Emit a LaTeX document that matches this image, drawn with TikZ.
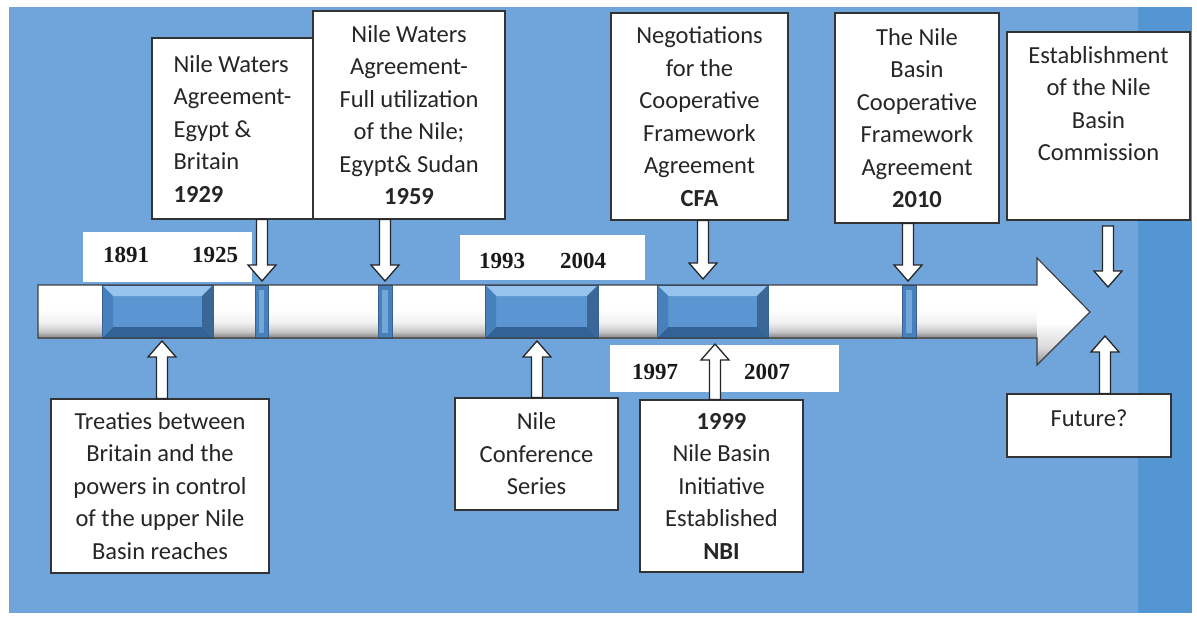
\documentclass[tikz,border=0pt]{standalone}
\usepackage{fontspec}
\setmainfont{Carlito}
\newfontfamily\yearfam{Liberation Serif}
\usetikzlibrary{calc}
\definecolor{bgblue}{RGB}{111,165,219}
\definecolor{bgstrip}{RGB}{84,150,212}
\definecolor{segblue}{RGB}{92,150,210}
\definecolor{seglight}{RGB}{150,196,238}
\definecolor{segdark}{RGB}{50,98,150}
\definecolor{segside}{RGB}{72,128,188}
\definecolor{textgray}{RGB}{38,38,38}
\newcommand\evfont{\fontsize{24.5}{32.5}\selectfont}
\newcommand\yrfont{\yearfam\bfseries\fontsize{23}{26}\selectfont}
\pgfdeclareverticalshading{shaftshade}{100bp}{color(0bp)=(black!50); color(25bp)=(black!50); color(31bp)=(black!22); color(40bp)=(black!5); color(52bp)=(white); color(100bp)=(white)}
\pgfdeclareverticalshading{headshade}{100bp}{color(0bp)=(black!50); color(25bp)=(black!45); color(33bp)=(black!15); color(45bp)=(white); color(100bp)=(white)}
\newcommand\blueseg[2]{%
  \fill[segblue] (#1,285) rectangle (#2,338);
  \fill[seglight] (#1,285) -- (#2,285) -- ({#2-11},296) -- ({#1+11},296) -- cycle;
  \fill[segdark] (#1,338) -- (#2,338) -- ({#2-11},327) -- ({#1+11},327) -- cycle;
  \fill[segside] (#1,285) -- ({#1+11},296) -- ({#1+11},327) -- (#1,338) -- cycle;
  \fill[segside!80!black] (#2,285) -- ({#2-11},296) -- ({#2-11},327) -- (#2,338) -- cycle;
  \draw[segdark,line width=0.8pt] (#1,285) rectangle (#2,338);}
\newcommand\narrowseg[2]{%
  \fill[segside] (#1,285) rectangle (#2,338);
  \fill[segblue!85!white] ({#1+4},290) rectangle ({#2-4},333);
  \draw[segdark,line width=0.8pt] (#1,285) rectangle (#2,338);}
\newcommand\blkdown[2]{\draw[barrow] let \p1=(#1), \p2=(#2) in
  ({\x1-5.5pt},\y1) -- ({\x1+5.5pt},\y1) -- ({\x1+5.5pt},{\y2+16pt}) -- ({\x1+14pt},{\y2+16pt})
  -- (\x1,\y2) -- ({\x1-14pt},{\y2+16pt}) -- ({\x1-5.5pt},{\y2+16pt}) -- cycle;}
\newcommand\blkup[2]{\draw[barrow] let \p1=(#1), \p2=(#2) in
  ({\x1-5.5pt},\y1) -- ({\x1+5.5pt},\y1) -- ({\x1+5.5pt},{\y2-16pt}) -- ({\x1+14pt},{\y2-16pt})
  -- (\x1,\y2) -- ({\x1-14pt},{\y2-16pt}) -- ({\x1-5.5pt},{\y2-16pt}) -- cycle;}
\begin{document}
\begin{tikzpicture}[x=1pt,y=-1pt,
  evbox/.style={draw=black!80,line width=1.1pt,fill=white,inner sep=0pt,align=center,font=\evfont,text=textgray},
  evtext/.style={inner sep=0pt,align=center,font=\evfont,text=textgray},
  yearbox/.style={fill=white,draw=none,inner sep=0pt},
  yeartext/.style={inner sep=0pt,font=\yrfont,text=black!90},
  barrow/.style={draw=black!85,line width=1.3pt,fill=white,line join=miter}]
\useasboundingbox (0,0) rectangle (1197,618);
% background
\fill[white] (0,0) rectangle (1197,618);
\fill[bgblue] (9,7) rectangle (1192,613);
\fill[bgstrip] (1138,7) rectangle (1192,613);
% year label boxes
\node[yearbox,minimum width=169pt,minimum height=50pt] (y1) at (167.5,257) {};
\node[yearbox,minimum width=185pt,minimum height=45pt] (y2) at (552.5,257.5) {};
\node[yearbox,minimum width=229pt,minimum height=47pt] (y3) at (724.5,368.5) {};
\node[yeartext] (t1891) at (126,255) {1891};
\node[yeartext] (t1925) at (215,255) {1925};
\node[yeartext] (t1993) at (502,261) {1993};
\node[yeartext] (t2004) at (583,261) {2004};
\node[yeartext] (t1997) at (655,372) {1997};
\node[yeartext] (t2007) at (767,372) {2007};
% timeline arrow
\fill[shading=shaftshade] (38,285) rectangle (1037,338);
\fill[shading=headshade] (1037,258) -- (1090,312) -- (1037,365) -- cycle;
\blueseg{102}{213}
\narrowseg{255}{268}
\narrowseg{378}{392}
\blueseg{485}{598}
\blueseg{657}{768}
\narrowseg{902}{916}
\draw[black!75,line width=1.2pt,line join=miter] (38,285) -- (1037,285) -- (1037,258) -- (1090,312) -- (1037,365) -- (1037,338) -- (38,338) -- cycle;
% timeline points
\coordinate (p1929) at (262,281);
\coordinate (p1959) at (385,281);
\coordinate (pCFA) at (703,279);
\coordinate (p2010) at (908,281);
\coordinate (pNBC) at (1108,287);
\coordinate (sNBC) at (1108,226);
\coordinate (pTre) at (162,341);
\coordinate (pConf) at (537,341);
\coordinate (pNBI) at (715,344);
\coordinate (pFut) at (1105,336);
% top boxes
\node[evbox,align=left,minimum width=161pt,minimum height=181pt] (b1929) at (232.5,128.5)
  {Nile Waters\\Agreement-\\Egypt \&\\Britain\\\textbf{1929}};
\node[evbox,minimum width=192pt,minimum height=208pt] (b1959) at (409,115)
  {Nile Waters\\Agreement-\\Full utilization\\of the Nile;\\Egypt\& Sudan\\\textbf{1959}};
\node[evbox,minimum width=177pt,minimum height=207pt] (bCFA) at (699.5,116.5)
  {Negotiations\\for the\\Cooperative\\Framework\\Agreement\\\textbf{CFA}};
\node[evbox,minimum width=164pt,minimum height=210pt] (b2010) at (917,118)
  {The Nile\\Basin\\Cooperative\\Framework\\Agreement\\\textbf{2010}};
\node[evbox,minimum width=183pt,minimum height=188pt] (bNBC) at (1098.5,126) {};
\node[evtext] (tNBC) at (1098.5,103.5) {Establishment\\of the Nile\\Basin\\Commission};
% bottom boxes
\node[evbox,minimum width=218pt,minimum height=174pt] (bTre) at (160,486)
  {Treaties between\\Britain and the\\powers in control\\of the upper Nile\\Basin reaches};
\node[evbox,minimum width=163pt,minimum height=112pt] (bConf) at (536.5,454)
  {Nile\\Conference\\Series};
\node[evbox,minimum width=163pt,minimum height=172pt] (bNBI) at (721.5,486)
  {\textbf{1999}\\Nile Basin\\Initiative\\Established\\\textbf{NBI}};
\node[evbox,minimum width=164pt,minimum height=63pt] (bFut) at (1089,425.5) {};
\node[evtext] (tFut) at (1089,418) {Future?};
% block arrows
\blkdown{b1929.south -| p1929}{p1929}
\blkdown{b1959.south -| p1959}{p1959}
\blkdown{bCFA.south -| pCFA}{pCFA}
\blkdown{b2010.south -| p2010}{p2010}
\blkdown{sNBC}{pNBC}
\blkup{bTre.north -| pTre}{pTre}
\blkup{bConf.north -| pConf}{pConf}
\blkup{bNBI.north -| pNBI}{pNBI}
\blkup{bFut.north -| pFut}{pFut}
\end{tikzpicture}
\end{document}
